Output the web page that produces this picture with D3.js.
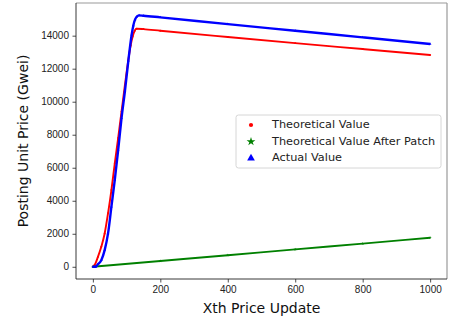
<!DOCTYPE html>
<html>
<head>
<meta charset="utf-8">
<script src="https://cdn.jsdelivr.net/npm/d3@7"></script>
<style>
  body { margin: 0; background: #fff; }
  svg { display: block; font-family: "DejaVu Sans", sans-serif; }
</style>
</head>
<body>
<svg id="chart" width="464" height="325"></svg>
<script>
/* Chart data */
const theoreticalX = [0, 5, 15, 25, 35, 45, 55, 65, 75, 85, 95, 105, 112, 118, 124, 130, 150, 200, 400, 600, 800, 1000];
const theoreticalY = [0, 100, 600, 1210, 2020, 3240, 4650, 6270, 7800, 9400, 11000, 12500, 13400, 13950, 14300, 14420, 14400, 14300, 13920, 13550, 13190, 12830];

const patchedX = [0, 200, 400, 600, 800, 1000];
const patchedY = [0, 350, 700, 1055, 1405, 1760];

const actualX = [0, 8, 15, 25, 35, 45, 55, 65, 75, 85, 95, 105, 115, 120, 125, 130, 137, 150, 200, 400, 600, 800, 1000];
const actualY = [0, 0, 150, 400, 1010, 2020, 3640, 5260, 7070, 9000, 10630, 12450, 14060, 14620, 14970, 15150, 15230, 15210, 15110, 14700, 14300, 13900, 13500];

const xTicks = [0, 200, 400, 600, 800, 1000];
const yTicks = [0, 2000, 4000, 6000, 8000, 10000, 12000, 14000];

const legendLabels = ["Theoretical Value", "Theoretical Value After Patch", "Actual Value"];

/* Layout */
const plot = { left: 76, right: 447, top: 3, bottom: 279 };
const svg = d3.select("#chart");

const x = d3.scaleLinear().domain([-50, 1050]).range([plot.left, plot.right]);
const y = d3.scaleLinear().domain([-740, 15980]).range([plot.bottom, plot.top]);

// Axes
const xAxis = d3.axisBottom(x).tickValues(xTicks).tickSize(3.5).tickPadding(3.5).tickFormat(d3.format("d"));
const yAxis = d3.axisLeft(y).tickValues(yTicks).tickSize(3.5).tickPadding(3.5).tickFormat(d3.format("d"));

const gx = svg.append("g").attr("transform", `translate(0,${plot.bottom})`).call(xAxis);
const gy = svg.append("g").attr("transform", `translate(${plot.left},0)`).call(yAxis);
[gx, gy].forEach(g => {
  g.select(".domain").remove();
  g.selectAll("text").attr("font-size", 10).attr("fill", "#222");
  g.selectAll("line").attr("stroke", "#222").attr("stroke-width", 0.8);
});

// Series
const series = [
  { xs: theoreticalX, ys: theoreticalY, color: "#ff0000", symbol: d3.symbolCircle, width: 1.9 },
  { xs: patchedX, ys: patchedY, color: "#008000", symbol: d3.symbolStar, width: 1.9 },
  { xs: actualX, ys: actualY, color: "#0000ff", symbol: d3.symbolTriangle, width: 2.4 }
];

const line = d3.line().x(d => x(d[0])).y(d => y(d[1])).curve(d3.curveMonotoneX);

svg.append("clipPath").attr("id", "plot-clip")
  .append("rect")
  .attr("x", plot.left).attr("y", plot.top)
  .attr("width", plot.right - plot.left).attr("height", plot.bottom - plot.top);

const marks = svg.append("g").attr("clip-path", "url(#plot-clip)");

series.forEach(s => {
  const points = s.xs.map((v, i) => [v, s.ys[i]]);
  marks.append("path")
    .attr("d", line(points))
    .attr("fill", "none")
    .attr("stroke", s.color)
    .attr("stroke-width", s.width)
    .attr("stroke-linejoin", "round");
  marks.append("g")
    .selectAll("path")
    .data(points)
    .join("path")
    .attr("transform", d => `translate(${x(d[0])},${y(d[1])})`)
    .attr("d", d3.symbol().type(s.symbol).size(3))
    .attr("fill", s.color);
});

// Frame
svg.append("line").attr("x1", plot.left).attr("x2", plot.right).attr("y1", plot.top).attr("y2", plot.top)
  .attr("stroke", "#999").attr("stroke-width", 1.2);
svg.append("line").attr("x1", plot.right).attr("x2", plot.right).attr("y1", plot.top).attr("y2", plot.bottom)
  .attr("stroke", "#999").attr("stroke-width", 1.2);
svg.append("line").attr("x1", plot.left).attr("x2", plot.left).attr("y1", plot.top).attr("y2", plot.bottom)
  .attr("stroke", "#222").attr("stroke-width", 0.9);
svg.append("line").attr("x1", plot.left).attr("x2", plot.right).attr("y1", plot.bottom).attr("y2", plot.bottom)
  .attr("stroke", "#222").attr("stroke-width", 0.9);

// Axis labels
svg.append("text")
  .attr("x", (plot.left + plot.right) / 2)
  .attr("y", 313)
  .attr("text-anchor", "middle")
  .attr("font-size", 14)
  .attr("fill", "#111")
  .text("Xth Price Update");

svg.append("text")
  .attr("transform", `translate(27.5,${(plot.top + plot.bottom) / 2}) rotate(-90)`)
  .attr("text-anchor", "middle")
  .attr("font-size", 14)
  .attr("fill", "#111")
  .text("Posting Unit Price (Gwei)");

// Legend
const legend = svg.append("g").attr("transform", "translate(236,115)");
legend.append("rect")
  .attr("width", 205).attr("height", 53)
  .attr("rx", 2.5)
  .attr("fill", "#fff").attr("fill-opacity", 0.8)
  .attr("stroke", "#ccc").attr("stroke-width", 0.8);

const legendSymbols = [
  { symbol: d3.symbolCircle, size: 14 },
  { symbol: d3.symbolStar, size: 24 },
  { symbol: d3.symbolTriangle, size: 26 }
];

legendLabels.forEach((label, i) => {
  const row = legend.append("g").attr("transform", `translate(0,${9 + i * 16.6})`);
  row.append("path")
    .attr("transform", "translate(15,1)")
    .attr("d", d3.symbol().type(legendSymbols[i].symbol).size(legendSymbols[i].size))
    .attr("fill", series[i].color);
  row.append("text")
    .attr("x", 36)
    .attr("dy", "0.35em")
    .attr("font-size", 11.3)
    .attr("fill", "#222")
    .text(label);
});
</script>
</body>
</html>
